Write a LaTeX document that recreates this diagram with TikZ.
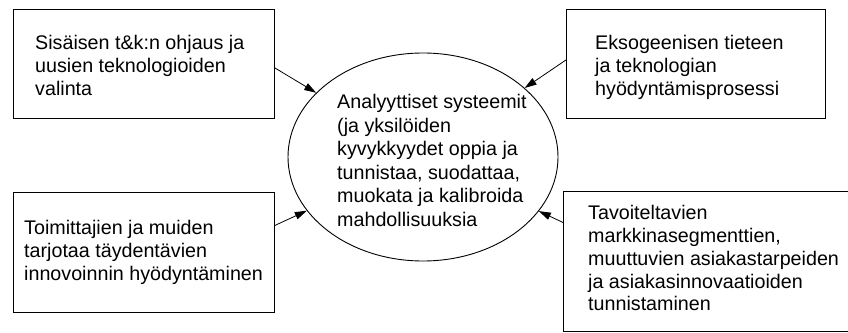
\documentclass[tikz,border=0pt]{standalone}
\usepackage{fontspec}
\setmainfont{Liberation Sans}
\usepackage{tikz}
\usetikzlibrary{shapes.geometric}
\usetikzlibrary{arrows.meta}
\usetikzlibrary{positioning}

\tikzset{
  laatikko/.style={draw, rectangle, line width=0.9pt, anchor=north west, inner sep=0pt},
  teksti/.style={align=left, inner sep=0pt, font=\fontsize{19.7}{22.7}\selectfont},
  nuoli/.style={-{Triangle[length=12pt,width=7.5pt]}, line width=0.8pt}
}

\begin{document}
\begin{tikzpicture}[x=1pt,y=-1pt]
            \useasboundingbox (0,0) rectangle (848,332);
            \clip (0,0) rectangle (848,332);
            \node[laatikko, minimum width=261pt, minimum height=109pt] (ohjaus) at (13,9) {};
            \node[laatikko, minimum width=259pt, minimum height=109pt] (eksogeeninen) at (566,9) {};
            \node[laatikko, minimum width=261pt, minimum height=120pt] (toimittajat) at (13,192) {};
            \node[laatikko, minimum width=310pt, minimum height=140pt] (markkinat) at (563,191) {};
            \node[ellipse, draw, line width=0.9pt, minimum width=270pt, minimum height=208pt, inner sep=0pt] (systeemit) at (423,157) {};
            \node[teksti, below right=26.5pt and 22pt of ohjaus.north west] (ohjausteksti) {Sisäisen t\&k:n ohjaus ja\\uusien teknologioiden\\valinta};
            \node[teksti, below right=26.5pt and 29pt of eksogeeninen.north west] (eksogeeninenteksti) {Eksogeenisen tieteen\\ja teknologian\\hyödyntämisprosessi};
            \node[teksti, below right=28.5pt and 11pt of toimittajat.north west] (toimittajateksti) {Toimittajien ja muiden\\tarjotaa täydentävien\\innovoinnin hyödyntäminen};
            \node[teksti, below right=14.5pt and 25pt of markkinat.north west] (markkinateksti) {Tavoiteltavien\\markkinasegmenttien,\\muuttuvien asiakastarpeiden\\ja asiakasinnovaatioiden\\tunnistaminen};
            \node[teksti, font=\fontsize{19.7}{23.5}\selectfont, anchor=north west] (systeemiteksti) at (337,94.5) {Analyyttiset systeemit\\(ja yksilöiden\\kyvykkyydet oppia ja\\tunnistaa, suodattaa,\\muokata ja kalibroida\\mahdollisuuksia};
            \draw[nuoli] ([yshift=-4pt]ohjaus.east) -- (systeemit);
            \draw[nuoli] ([yshift=4pt]eksogeeninen.west) -- (systeemit);
            \draw[nuoli] ([yshift=27pt]toimittajat.east) -- (systeemit);
            \draw[nuoli] ([yshift=39pt]markkinat.west) -- (systeemit);
        \end{tikzpicture}
\end{document}
